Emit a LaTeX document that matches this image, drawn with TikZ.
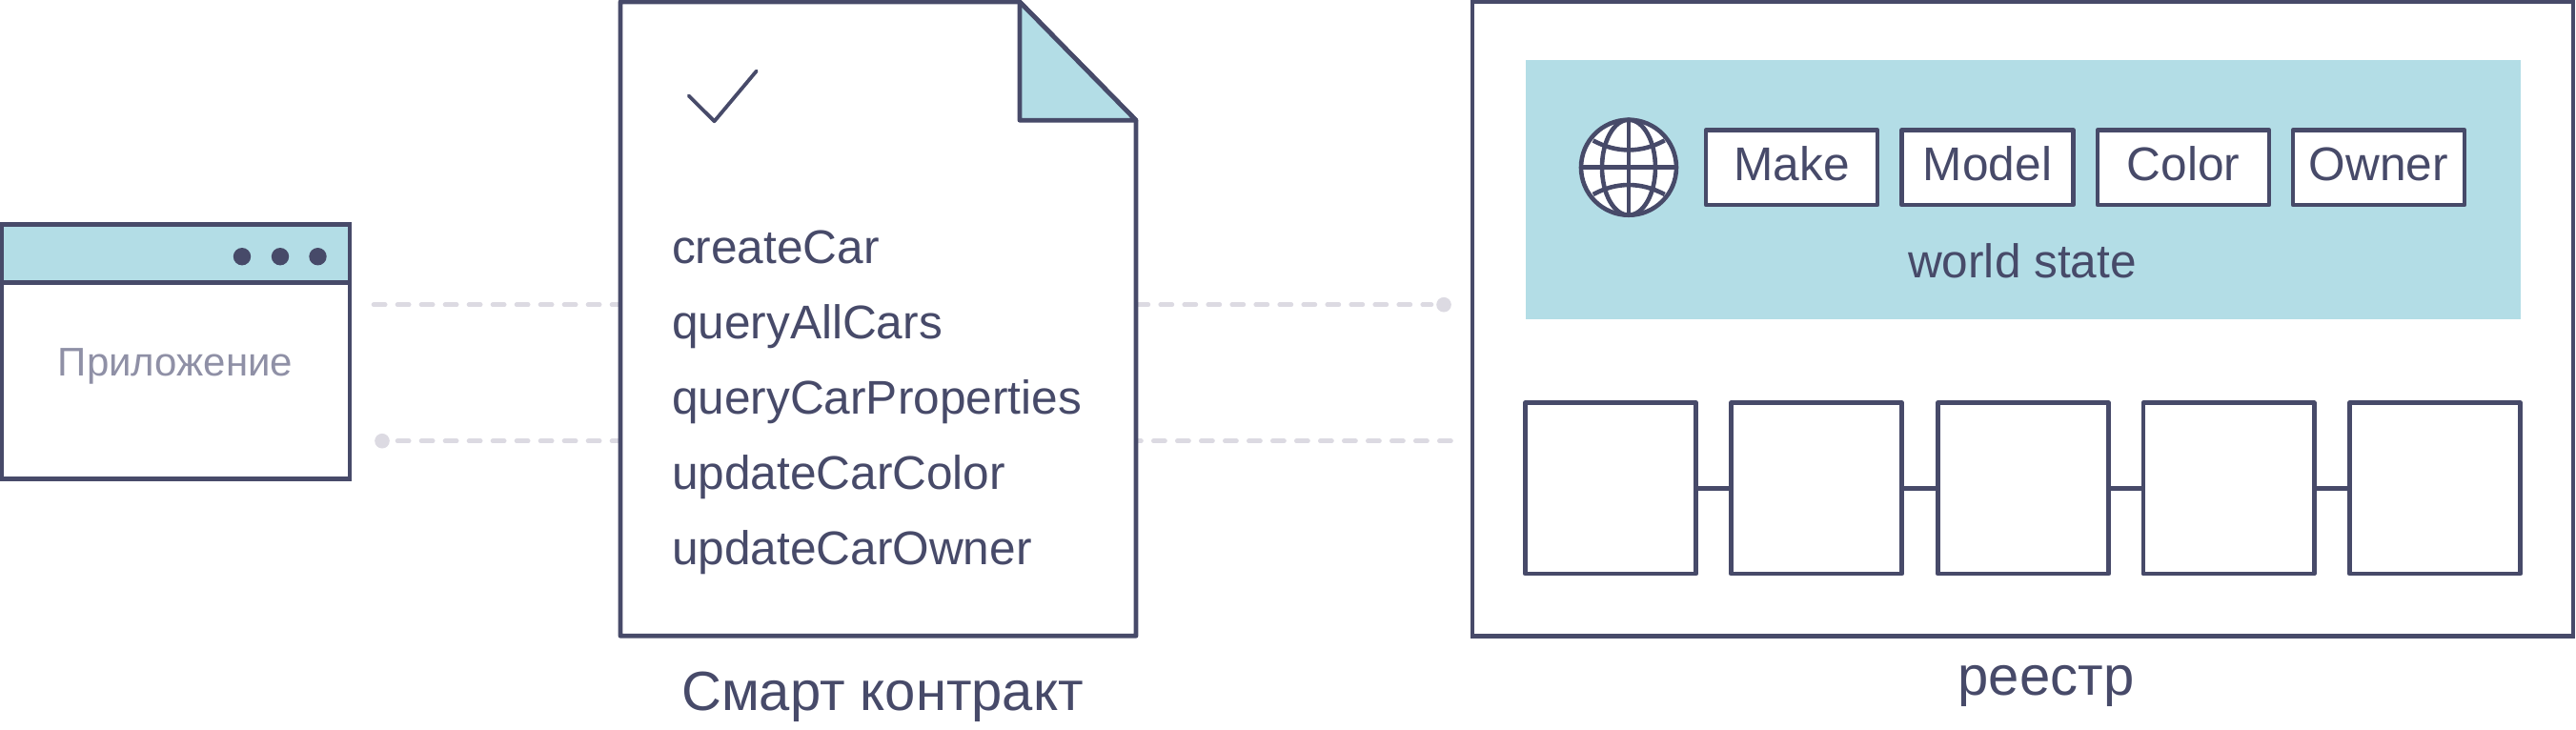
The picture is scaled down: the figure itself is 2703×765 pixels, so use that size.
\documentclass[tikz,border=0pt]{standalone}
\usepackage{fontspec}
\setmainfont{Liberation Sans}
\definecolor{ink}{HTML}{474A69}
\definecolor{teal}{HTML}{B3DDE6}
\definecolor{dashgray}{HTML}{DCDAE2}
\definecolor{softink}{HTML}{8F90A6}
\tikzset{
  x=0.25pt,y=-0.25pt,
  outline/.style={draw=ink,line width=1.2pt},
  panel/.style={outline,fill=white,inner sep=0pt,outer sep=0pt,line join=round},
  fieldbox/.style={panel,minimum width=45pt,minimum height=19.6pt,text=ink,text height=7pt,text depth=0pt,font=\fontsize{12.4}{14}\selectfont},
  blockbox/.style={panel,minimum width=44.8pt,minimum height=44.8pt},
  link/.style={outline,line width=1.15pt},
  dashlink/.style={draw=dashgray,line width=1.15pt,line cap=round,dash pattern=on 3.05pt off 3.2pt},
  enddot/.style={circle,fill=dashgray,inner sep=0pt,outer sep=0pt,minimum size=3.9pt},
  windot/.style={circle,fill=ink,inner sep=0pt,outer sep=0pt,minimum size=4.6pt},
  fn/.style={anchor=base west,inner sep=0pt,outer sep=0pt,text=ink,font=\fontsize{12.4}{14}\selectfont},
  caption/.style={anchor=base,inner sep=0pt,outer sep=0pt,text=ink,font=\fontsize{14.5}{16}\selectfont},
  globeline/.style={outline,line width=1.15pt},
}
\begin{document}
\begin{tikzpicture}
\useasboundingbox (0,0) rectangle (2703,765);
\begin{scope}[shift={(0,1.2)}]
% dashed connectors, under the document
\coordinate (appA) at (392,318.5);
\coordinate (docLA) at (650,318.5);
\node[enddot] (dotL) at (401,461.5) {};
\coordinate (appB) at (417,461.5);
\coordinate (docLB) at (650,461.5);
\coordinate (docRA) at (1192.7,318.5);
\coordinate (ledA) at (1502,318.5);
\node[enddot] (dotR) at (1515,318.5) {};
\coordinate (docRB) at (1185.3,461.5);
\coordinate (ledB) at (1523,461.5);
\draw[dashlink] (appA) -- (docLA);
\draw[dashlink] (appB) -- (docLB);
\draw[dashlink] (docRA) -- (ledA);
\draw[dashlink] (docRB) -- (ledB);
% application window
\node[panel,line join=miter,minimum width=91.25pt,minimum height=66.75pt,anchor=north west] (app) at (2,234.5) {};
\fill[teal] (2,234.5) rectangle (367,295);
\draw[outline] (2,234.5) rectangle (367,501.5);
\draw[outline] (2,295) -- (367,295);
\node[windot] (w1) at (254,268) {};
\node[windot] (w2) at (294,268) {};
\node[windot] (w3) at (333.5,268) {};
\node[anchor=base,inner sep=0pt,text=softink,font=\fontsize{10.5}{12}\selectfont] (applabel) at (184,393) {Приложение};
% document
\draw[outline,fill=white,line join=round] (651,0.8) -- (1070,0.8) -- (1192,125) -- (1192,666) -- (651,666) -- cycle;
\draw[outline,fill=teal,line join=round] (1070,0.8) -- (1192,125) -- (1070,125) -- cycle;
\draw[ink,line width=0.95pt,line cap=round,line join=round] (722.7,99.3) -- (749.6,126) -- (793.8,73.3);
\node[fn] (f1) at (705,275.5) {createCar};
\node[fn] (f2) at (705,354.5) {queryAllCars};
\node[fn] (f3) at (705,433.5) {queryCarProperties};
\node[fn] (f4) at (705,512.5) {updateCarColor};
\node[fn] (f5) at (705,591.5) {updateCarOwner};
\node[caption] (doccap) at (926,744) {Смарт контракт};
% ledger frame
\node[panel,line join=miter,minimum width=288.75pt,minimum height=166.3pt,anchor=north west] (ledger) at (1545,0.8) {};
\node[caption] (ledcap) at (2147,728) {реестр};
\node[fill=teal,inner sep=0pt,outer sep=0pt,minimum width=261pt,minimum height=68pt,anchor=north west] (world) at (1600.5,61.5) {};
% globe
\fill[white] (1709,174.5) circle[radius=50];
\draw[globeline] (1709,174.5) circle[radius=50];
\draw[globeline] (1709,174.5) ellipse[x radius=28,y radius=50];
\draw[globeline] (1709,124.5) -- (1709,224.5);
\draw[globeline] (1659,174.5) -- (1759,174.5);
\draw[globeline] (1671.7,146.2) .. controls (1696,159.5) and (1722,159.5) .. (1746.7,146.2);
\draw[globeline] (1671.7,202.8) .. controls (1696,189.5) and (1722,189.5) .. (1746.7,202.8);
% fields
\node[fieldbox] (make) at (1880,174.5) {Make};
\node[fieldbox] (model) at (2085.5,174.5) {Model};
\node[fieldbox] (color) at (2291,174.5) {Color};
\node[fieldbox] (owner) at (2496,174.5) {Owner};
\node[anchor=base,inner sep=0pt,text=ink,font=\fontsize{12.4}{14}\selectfont] (wslabel) at (2122,290.5) {world state};
% blocks
\node[blockbox,anchor=center] (b1) at (1690,511.2) {};
\node[blockbox,anchor=center] (b2) at (1906,511.2) {};
\node[blockbox,anchor=center] (b3) at (2123,511.2) {};
\node[blockbox,anchor=center] (b4) at (2338.5,511.2) {};
\node[blockbox,anchor=center] (b5) at (2555,511.2) {};
\foreach \a/\b in {b1/b2,b2/b3,b3/b4,b4/b5}{\draw[link,yshift=0.4pt] (\a.east) -- (\b.west);}
\end{scope}
\end{tikzpicture}
\end{document}
